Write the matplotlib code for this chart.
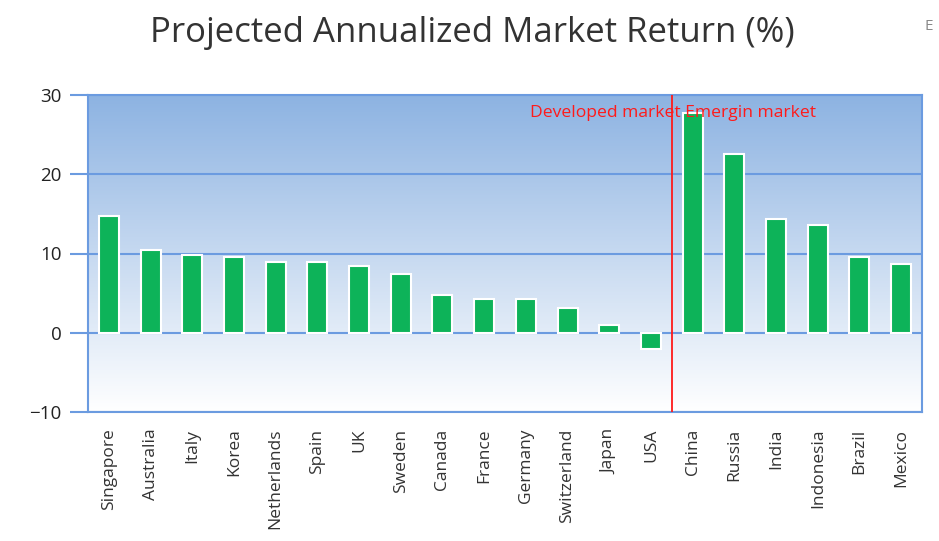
import numpy as np
import matplotlib
matplotlib.use("Agg")
import matplotlib.pyplot as plt

countries = [
    "Singapore", "Australia", "Italy", "Korea", "Netherlands", "Spain", "UK",
    "Sweden", "Canada", "France", "Germany", "Switzerland", "Japan", "USA",
    "China", "Russia", "India", "Indonesia", "Brazil", "Mexico",
]
returns = [
    14.7, 10.5, 9.8, 9.6, 8.9, 8.9, 8.4,
    7.4, 4.8, 4.3, 4.3, 3.1, 1.0, -2.1,
    27.7, 22.5, 14.3, 13.6, 9.5, 8.7,
]
y_ticks = [-10, 0, 10, 20, 30]
n_developed = 14

blue = "#6b9be0"
plt.rcParams["font.family"] = ["Open Sans", "DejaVu Sans"]

fig = plt.figure(figsize=(9.39, 5.41), dpi=100)
ax = fig.add_axes([88 / 939, 1 - 412 / 541, (922 - 88) / 939, (412 - 95) / 541])

x = np.arange(len(countries))
ax.set_xlim(-0.5, len(countries) - 0.5)
ax.set_ylim(-10, 30)

# gradient background
grad = np.linspace(0, 1, 256).reshape(-1, 1)
cmap = matplotlib.colors.LinearSegmentedColormap.from_list("bg", ["#ffffff", "#8db3e2"])
ax.imshow(grad, aspect="auto", cmap=cmap, origin="lower",
          extent=[-0.5, len(countries) - 0.5, -10, 30], zorder=0)

for t in y_ticks:
    ax.axhline(t, color=blue, lw=1.5, zorder=1)

ax.bar(x, returns, width=0.48, color="#0db359", edgecolor="white", linewidth=1.5, zorder=2)

ax.axvline(n_developed - 0.5, color="#ff1a1a", lw=1.3, zorder=3)
ax.text(530 / 939, 1 - 113 / 541, "Developed market Emergin market", color="#ff1a1a",
        fontsize=12.6, ha="left", va="center", zorder=4, transform=fig.transFigure)

for s in ax.spines.values():
    s.set_color(blue)
    s.set_linewidth(1.5)

ax.set_yticks(y_ticks)
ax.set_yticklabels([str(t).replace("-", "\u2212") for t in y_ticks], fontsize=13.5, color="#222222")
ax.tick_params(axis="y", length=13, width=1.5, color=blue, pad=6)
ax.set_xticks(x)
ax.set_xticklabels(countries, rotation=90, fontsize=12.5, color="#333333")
ax.tick_params(axis="x", length=0, pad=12)

fig.text(472 / 939, 1 - 33 / 541, "Projected Annualized Market Return (%)", ha="center",
         va="center", fontsize=25, color="#333333")
fig.text(925 / 939, 1 - 27 / 541, "E", ha="left", va="center", fontsize=11, color="#888888")

fig.savefig("out.png", dpi=100)
